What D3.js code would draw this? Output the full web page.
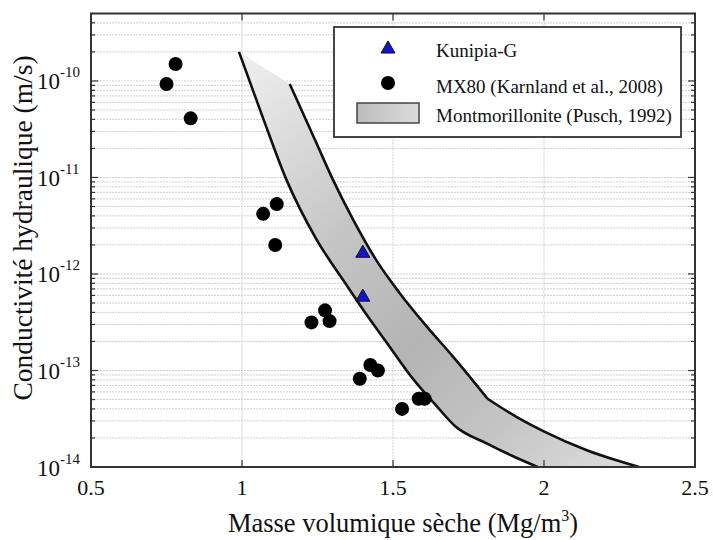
<!DOCTYPE html>
<html><head><meta charset="utf-8">
<script src="https://cdn.jsdelivr.net/npm/d3@7"></script>
<style>body{margin:0;background:#fff}svg{display:block}text{font-family:"Liberation Serif","Times New Roman",serif;fill:#111}</style>
</head><body><svg id="c" width="713" height="540" font-family="Liberation Serif, Times New Roman, serif"></svg>
<script>
// ---- data ----
const xTicks = [0.5, 1, 1.5, 2, 2.5];
const xTickLabels = ["0.5", "1", "1.5", "2", "2.5"];
const yTicks = [1e-14, 1e-13, 1e-12, 1e-11, 1e-10];
const yTickExp = ["-14", "-13", "-12", "-11", "-10"];

const mx80X = [0.75, 0.78, 0.83, 1.07, 1.115, 1.11, 1.23, 1.275, 1.29, 1.39, 1.425, 1.45, 1.53, 1.585, 1.605];
const mx80Y = [9.3e-11, 1.5e-10, 4.1e-11, 4.2e-12, 5.3e-12, 2.0e-12, 3.15e-13, 4.2e-13, 3.25e-13, 8.2e-14, 1.14e-13, 1.0e-13, 4.0e-14, 5.1e-14, 5.1e-14];

const kunX = [1.4, 1.4];
const kunY = [1.68e-12, 5.9e-13];

const lowerX = [0.99, 1.07, 1.147, 1.246, 1.341, 1.404, 1.48, 1.566, 1.646, 1.705, 1.81, 1.896, 1.979];
const lowerY = [2.0e-10, 4.1e-11, 9.5e-12, 2.3e-12, 8.1e-13, 4.14e-13, 1.93e-13, 8.2e-14, 4.22e-14, 2.66e-14, 1.76e-14, 1.3e-14, 1.0e-14];
const upperAX = [1.158, 1.246, 1.301, 1.367, 1.444, 1.521, 1.610, 1.698, 1.813];
const upperAY = [9.3e-11, 2.29e-11, 9.5e-12, 3.7e-12, 1.4e-12, 6.4e-13, 2.9e-13, 1.4e-13, 5.1e-14];
const upperBX = [1.813, 1.907, 2.001, 2.14, 2.315];
const upperBY = [5.1e-14, 3.33e-14, 2.33e-14, 1.5e-14, 1.0e-14];

const legendLabels = ["Kunipia-G", "MX80 (Karnland et al., 2008)", "Montmorillonite (Pusch, 1992)"];

// ---- layout ----
const L = 91, R = 695, T = 13.5, B = 467;
const svg = d3.select("#c");
const x = d3.scaleLinear().domain([0.5, 2.5]).range([L, R]);
const y = d3.scaleLog().domain([1e-14, 5e-10]).range([B, T]);

const defs = svg.append("defs");
const g1 = defs.append("linearGradient").attr("id", "band").attr("gradientUnits", "userSpaceOnUse")
  .attr("x1", 250).attr("y1", 50).attr("x2", 620).attr("y2", 460);
[[0, "#efefef"], [0.35, "#c6c6c6"], [0.6, "#b4b4b4"], [0.8, "#c4c4c4"], [1, "#dadada"]]
  .forEach(([o, c]) => g1.append("stop").attr("offset", o).attr("stop-color", c));
const g2 = defs.append("linearGradient").attr("id", "sw");
[[0, "#bcbcbc"], [1, "#dcdcdc"]].forEach(([o, c]) => g2.append("stop").attr("offset", o).attr("stop-color", c));
defs.append("clipPath").attr("id", "clip").append("rect").attr("x", L).attr("y", T).attr("width", R - L).attr("height", B - T);

// grid
const minorY = [];
for (let e = -14; e <= -10; e++) for (let m = 1; m <= 9; m++) { const v = m * Math.pow(10, e); if (v <= 5e-10 && v > 1e-14) minorY.push(v); }
const grid = svg.append("g");
grid.selectAll("line.h").data(minorY).join("line")
  .attr("x1", L).attr("x2", R).attr("y1", d => y(d)).attr("y2", d => y(d))
  .attr("stroke", "#cfcfcf").attr("stroke-width", 1).attr("stroke-dasharray", "2,1");
grid.selectAll("line.v").data(xTicks.slice(1, -1)).join("line")
  .attr("y1", T).attr("y2", B).attr("x1", d => x(d)).attr("x2", d => x(d))
  .attr("stroke", "#cfcfcf").attr("stroke-width", 1).attr("stroke-dasharray", "2,1");

// band
const sm = d3.line().x(d => x(d[0])).y(d => y(d[1])).curve(d3.curveMonotoneX);
const lowerPts = lowerX.map((v, i) => [v, lowerY[i]]);
const upA = upperAX.map((v, i) => [v, upperAY[i]]);
const upB = upperBX.map((v, i) => [v, upperBY[i]]);
const dLower = sm(lowerPts);
const dUpA = sm(upA), dUpB = sm(upB);
const fillD = dLower + sm(upB.slice().reverse()).replace(/^M/, "L") + sm(upA.slice().reverse()).replace(/^M/, "L") + "Z";
const plot = svg.append("g").attr("clip-path", "url(#clip)");
plot.append("path").attr("d", fillD).attr("fill", "url(#band)").attr("stroke", "none");
[dLower, dUpA, dUpB].forEach(d => plot.append("path").attr("d", d)
  .attr("fill", "none").attr("stroke", "#111").attr("stroke-width", 2.6).attr("stroke-linejoin", "round"));

// points
svg.append("g").selectAll("circle").data(mx80X).join("circle")
  .attr("cx", d => x(d)).attr("cy", (d, i) => y(mx80Y[i])).attr("r", 7).attr("fill", "#000");
const tri = d3.symbol().type(d3.symbolTriangle).size(85);
svg.append("g").selectAll("path").data(kunX).join("path")
  .attr("d", tri).attr("transform", (d, i) => `translate(${x(d)},${y(kunY[i]) + 1})`)
  .attr("fill", "#1414c8").attr("stroke", "#111").attr("stroke-width", 1);

// frame
svg.append("rect").attr("x", L).attr("y", T).attr("width", R - L).attr("height", B - T)
  .attr("fill", "none").attr("stroke", "#333").attr("stroke-width", 2);

// ticks (inward)
const tk = svg.append("g").attr("stroke", "#333").attr("stroke-width", 1.2);
minorY.forEach(v => {
  const len = yTicks.includes(v) ? 7 : 4;
  tk.append("line").attr("x1", L).attr("x2", L + len).attr("y1", y(v)).attr("y2", y(v));
  tk.append("line").attr("x1", R).attr("x2", R - len).attr("y1", y(v)).attr("y2", y(v));
});
xTicks.slice(1, -1).forEach(v => {
  tk.append("line").attr("x1", x(v)).attr("x2", x(v)).attr("y1", B).attr("y2", B - 7);
  tk.append("line").attr("x1", x(v)).attr("x2", x(v)).attr("y1", T).attr("y2", T + 7);
});

// tick labels
svg.append("g").selectAll("text").data(xTicks).join("text")
  .attr("x", d => x(d)).attr("y", 495).attr("text-anchor", "middle").attr("font-size", 22)
  .text((d, i) => xTickLabels[i]);
const yl = svg.append("g").selectAll("text").data(yTicks).join("text")
  .attr("x", 37).attr("y", d => y(d) + 8.5).attr("font-size", 23);
yl.append("tspan").text("10");
yl.append("tspan").attr("dy", -12).attr("font-size", 15).text((d, i) => yTickExp[i]);

// axis titles
const xt = svg.append("text").attr("x", 403).attr("y", 532).attr("text-anchor", "middle").attr("font-size", 26.5);
xt.append("tspan").text("Masse volumique sèche (Mg/m");
xt.append("tspan").attr("dy", -11).attr("font-size", 16).text("3");
xt.append("tspan").attr("dy", 11).text(")");
svg.append("text").attr("transform", "translate(32,228) rotate(-90)").attr("text-anchor", "middle")
  .attr("font-size", 27.5).text("Conductivité hydraulique (m/s)");

// legend
const lg = svg.append("g");
lg.append("rect").attr("x", 334).attr("y", 27).attr("width", 347).attr("height", 110)
  .attr("fill", "#fff").attr("stroke", "#333").attr("stroke-width", 1.8);
lg.append("path").attr("d", tri).attr("transform", "translate(388,49)")
  .attr("fill", "#1414c8").attr("stroke", "#111").attr("stroke-width", 1);
lg.append("circle").attr("cx", 388).attr("cy", 83).attr("r", 7).attr("fill", "#000");
lg.append("rect").attr("x", 357).attr("y", 103).attr("width", 62).attr("height", 20)
  .attr("fill", "url(#sw)").attr("stroke", "#444").attr("stroke-width", 1.5);
const lb = [56.7, 93, 121.7];
lg.selectAll("text").data(legendLabels).join("text")
  .attr("x", 436).attr("y", (d, i) => lb[i]).attr("font-size", 19).text(d => d);
</script></body></html>
